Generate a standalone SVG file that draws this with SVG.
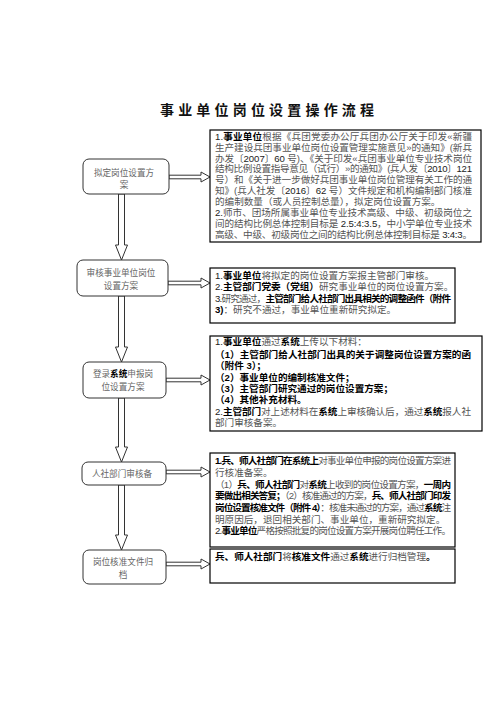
<svg xmlns="http://www.w3.org/2000/svg" width="496" height="702" viewBox="0 0 496 702">
<defs>
<style>
text{font-family:"Liberation Sans","Noto Sans CJK SC",sans-serif;font-size:9.6px;fill:#555}
.b{font-weight:bold;fill:#000}
.d{fill:#222}
.nt{font-size:8.6px;fill:#666;text-anchor:middle}
.title{font-family:"Noto Sans CJK SC",sans-serif;font-size:14px;font-weight:bold;fill:#111}
.node{fill:#fff;stroke:#333;stroke-width:1}
.box{fill:#fff;stroke:#000;stroke-width:1.2}
.arr{fill:#fff;stroke:#333;stroke-width:1}
</style>
</defs>
<rect width="496" height="702" fill="#fff"/>
<text class="title" x="160" y="115" textLength="214">事业单位岗位设置操作流程</text>

<g id="connectors">
<path class="arr" d="M118.5,194 V245 H115.5 L121.5,260 L127.5,245 H124.5 V194 Z"/>
<path class="arr" d="M118.5,296 V347 H115.5 L121.5,362 L127.5,347 H124.5 V296 Z"/>
<path class="arr" d="M118.5,398 V447 H115.5 L121.5,462 L127.5,447 H124.5 V398 Z"/>
<path class="arr" d="M118.5,485 V535 H115.5 L121.5,550 L127.5,535 H124.5 V485 Z"/>
<path class="arr" d="M169,175.2 H201 V172 L210,177 L201,182 V178.8 H169 Z"/>
<path class="arr" d="M168,281.2 H201 V278 L210,283 L201,288 V284.8 H168 Z"/>
<path class="arr" d="M166,378.2 H201 V375 L210,380 L201,385 V381.8 H166 Z"/>
<path class="arr" d="M166,470.2 H201 V467 L210,472 L201,477 V473.8 H166 Z"/>
<path class="arr" d="M166,562.2 H201 V559 L210,564 L201,569 V565.8 H166 Z"/>
</g>

<g id="n1">
<rect class="node" x="83" y="159" width="86" height="35" rx="6"/>
<text class="nt" x="124" y="175.5">拟定岗位设置方</text>
<text class="nt" x="124" y="188">案</text>
</g>
<g id="n2">
<rect class="node" x="77" y="260" width="91" height="36" rx="6"/>
<text class="nt" x="121" y="276">审核事业单位岗位</text>
<text class="nt" x="121" y="288.5">设置方案</text>
</g>
<g id="n3">
<rect class="node" x="83" y="362" width="83" height="36" rx="6"/>
<text class="nt" x="123" y="376.5">登录<tspan class="b">系统</tspan>申报岗</text>
<text class="nt" x="123" y="390">位设置方案</text>
</g>
<g id="n4">
<rect class="node" x="82" y="462" width="84" height="23" rx="6"/>
<text class="nt" x="122" y="476.5">人社部门审核备</text>
</g>
<g id="n5">
<rect class="node" x="83" y="550" width="83" height="34" rx="6"/>
<text class="nt" x="123" y="565">岗位核准文件归</text>
<text class="nt" x="123" y="578">档</text>
</g>

<g id="b1">
<rect class="box" x="210" y="130" width="271" height="112"/>
<text x="215" y="139.7" textLength="257"><tspan class="d">1.</tspan><tspan class="b">事业单位</tspan>根据《兵团党委办公厅兵团办公厅关于印发«新疆</text>
<text x="215" y="150.6" textLength="257">生产建设兵团事业单位岗位设置管理实施意见»的通知》(新兵</text>
<text x="215" y="161.5" textLength="257">办发〔<tspan class="d">2007</tspan>〕<tspan class="d">60</tspan> 号)、《关于印发«兵团事业单位专业技术岗位</text>
<text x="215" y="172.4" textLength="257">结构比例设置指导意见（试行）»的通知》(兵人发〔<tspan class="d">2010</tspan>〕<tspan class="d">121</tspan></text>
<text x="215" y="183.3" textLength="257">号）和《关于进一步做好兵团事业单位岗位管理有关工作的通</text>
<text x="215" y="194.2" textLength="257">知》(兵人社发〔<tspan class="d">2016</tspan>〕<tspan class="d">62</tspan> 号）文件规定和机构编制部门核准</text>
<text x="215" y="205.1">的编制数量（或人员控制总量），拟定岗位设置方案。</text>
<text x="215" y="216" textLength="257"><tspan class="d">2.</tspan>师市、团场所属事业单位专业技术高级、中级、初级岗位之</text>
<text x="215" y="226.9" textLength="257">间的结构比例总体控制目标是 <tspan class="d">2.5:4:3.5</tspan>，中小学单位专业技术</text>
<text x="215" y="237.8" textLength="257">高级、中级、初级岗位之间的结构比例总体控制目标是 <tspan class="d">3:4:3</tspan>。</text>
</g>

<g id="b2">
<rect class="box" x="210" y="268" width="245" height="55"/>
<text x="215" y="278.7"><tspan class="d">1.</tspan><tspan class="b">事业单位</tspan>将拟定的岗位设置方案报主管部门审核。</text>
<text x="215" y="290.2"><tspan class="d">2.</tspan><tspan class="b">主管部门党委（党组）</tspan>研究事业单位的岗位设置方案。</text>
<text x="215" y="301.5" textLength="236"><tspan class="d">3.</tspan>研究通过，<tspan class="b">主管部门给人社部门出具相关的调整函件（附件</tspan></text>
<text x="215" y="312.5"><tspan class="b">3)</tspan>：研究不通过，事业单位重新研究拟定。</text>
</g>

<g id="b3">
<rect class="box" x="210" y="336" width="272" height="95"/>
<text x="215" y="345.2"><tspan class="d">1.</tspan><tspan class="b">事业单位</tspan>通过<tspan class="b">系统</tspan>上传以下材料：</text>
<text class="b" x="215" y="357.5" textLength="256">（1）主管部门给人社部门出具的关于调整岗位设置方案的函</text>
<text class="b" x="215" y="369">（附件 3）；</text>
<text class="b" x="215" y="380.5">（2）事业单位的编制核准文件；</text>
<text class="b" x="215" y="392">（3）主管部门研究通过的岗位设置方案；</text>
<text class="b" x="215" y="403.2">（4）其他补充材料。</text>
<text x="215" y="414.5" textLength="256"><tspan class="d">2.</tspan><tspan class="b">主管部门</tspan>对上述材料在<tspan class="b">系统</tspan>上审核确认后，通过<tspan class="b">系统</tspan>报人社</text>
<text x="215" y="425.5">部门审核备案。</text>
</g>

<g id="b4">
<rect class="box" x="210" y="453" width="245" height="94"/>
<text x="215" y="464.2" textLength="236"><tspan class="b">1.兵、师人社部门在系统上</tspan>对事业单位申报的岗位设置方案进</text>
<text x="215" y="475.9">行核准备案。</text>
<text x="215" y="487.6" textLength="236">（1）<tspan class="b">兵、师人社部门</tspan>对<tspan class="b">系统</tspan>上收到的岗位设置方案，<tspan class="b">一周内</tspan></text>
<text x="215" y="499.3" textLength="236"><tspan class="b">要做出相关答复；</tspan>（2）核准通过的方案，<tspan class="b">兵、师人社部门印发</tspan></text>
<text x="215" y="511" textLength="236"><tspan class="b">岗位设置核准文件（附件 4）</tspan>：核准未通过的方案，通过<tspan class="b">系统</tspan>注</text>
<text x="215" y="522.7">明原因后，退回相关部门、事业单位，重新研究拟定。</text>
<text x="215" y="534.4" textLength="236"><tspan class="d">2.</tspan><tspan class="b">事业单位</tspan>严格按照批复的岗位设置方案开展岗位聘任工作。</text>
</g>

<g id="b5">
<rect class="box" x="210" y="549" width="245" height="34"/>
<text x="215" y="560.2"><tspan class="b">兵、师人社部门</tspan>将<tspan class="b">核准文件</tspan>通过<tspan class="b">系统</tspan>进行归档管理<tspan class="b">。</tspan></text>
</g>
</svg>
